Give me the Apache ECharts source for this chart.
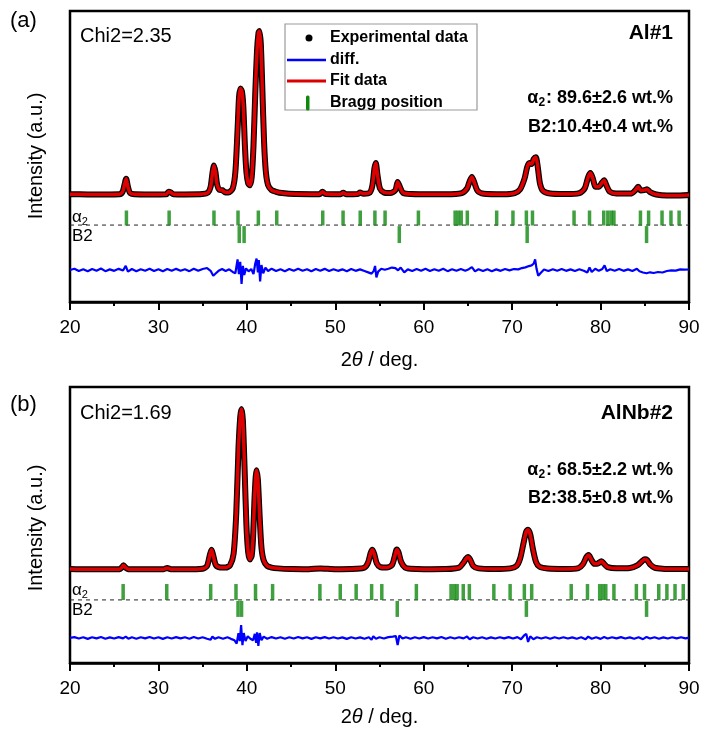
<!DOCTYPE html>
<html><head><meta charset="utf-8">
<script src="https://cdn.jsdelivr.net/npm/echarts@6/dist/echarts.min.js"></script>
<style>html,body{margin:0;padding:0;background:#fff}#c{width:704px;height:735px}</style>
</head><body><div id="c"></div>
<script>
// ---------- DATA (2θ in degrees, intensity in a.u., baseline ≈ 0, strongest peak = 100) ----------
const patternA = [[20,0.5],[22,0.4],[24,0.4],[25.6,0.5],[25.95,2],[26.15,6],[26.35,10],[26.55,5],[26.8,1.2],[27.3,0.5],[29,0.4],[30.9,0.5],[31.15,2],[31.4,1.6],[31.7,0.5],[33,0.4],[35,0.6],[35.6,1.5],[35.9,5],[36.1,13],[36.28,18],[36.45,14],[36.65,6],[36.9,3.2],[37.2,3],[37.5,1.8],[37.9,1.6],[38.4,4],[38.7,14],[38.95,40],[39.12,60],[39.28,65],[39.45,63],[39.6,54],[39.78,30],[39.95,14],[40.15,7],[40.35,6],[40.55,11],[40.75,30],[40.95,62],[41.15,88],[41.32,99],[41.43,100],[41.58,92],[41.75,65],[41.95,32],[42.15,14],[42.4,6],[42.8,3],[43.3,2],[44,1.2],[45.5,0.6],[48.2,0.5],[48.55,2],[48.9,0.6],[50.6,0.5],[50.9,1.4],[51.2,0.5],[52.5,0.6],[52.8,1.5],[53.2,0.8],[53.9,1.5],[54.2,6],[54.42,16],[54.58,19.5],[54.78,12],[55.05,4],[55.5,1.6],[56.2,1.2],[56.8,3],[57.05,8],[57.3,5],[57.65,1.4],[58.5,0.6],[60,0.5],[62.5,0.5],[64.3,1.2],[64.9,4],[65.2,8.5],[65.45,11],[65.7,8],[66.1,2.5],[66.8,0.8],[69,0.5],[70.3,1.2],[70.9,3.5],[71.4,10],[71.7,17],[71.95,19.5],[72.2,19],[72.45,22],[72.68,23],[72.9,17],[73.15,7],[73.5,2.5],[74.3,0.9],[76,0.6],[77.6,1.2],[78.2,4],[78.6,11],[78.85,13.4],[79.1,10.5],[79.45,5],[79.8,5],[80.15,7.5],[80.4,9],[80.65,6],[81.05,2],[81.8,0.9],[83.5,1],[83.95,3],[84.25,5],[84.55,2.8],[84.95,3],[85.25,3.5],[85.6,1.8],[86.3,0.3],[87.5,-0.3],[89,-0.2],[90,0]];
const diffA = [[20,0],[20.5,0.8],[21,-0.6],[21.5,0.5],[22,-0.8],[22.5,0.6],[23,-0.4],[23.5,0.9],[24,-0.7],[24.5,0.4],[25,-0.5],[25.5,0.7],[26,-0.3],[26.3,2.5],[26.55,-1],[27,0.6],[27.5,-0.7],[28,0.5],[28.5,-0.4],[29,0.8],[29.5,-0.6],[30,0.5],[30.5,-0.8],[31,0.6],[31.5,-0.5],[32,0.7],[32.5,-0.4],[33,0.5],[33.5,-0.7],[34,0.8],[34.5,-0.5],[35,0.6],[35.5,1.2],[35.9,-0.5],[36.2,-3.5],[36.5,-2],[36.8,-0.5],[37.2,0.6],[37.6,-0.6],[38.0,0.4],[38.4,-1.2],[38.7,-2],[38.95,6.5],[39.1,-2.5],[39.25,5],[39.4,-8.5],[39.55,2.5],[39.7,-3],[39.9,1],[40.2,-0.8],[40.5,0.6],[40.75,-2.5],[40.95,4],[41.1,7],[41.25,-1.5],[41.35,6],[41.5,-7],[41.65,3],[41.85,-2],[42.1,1.5],[42.4,-0.6],[42.8,0.8],[43.3,-0.6],[43.8,0.5],[44.3,-0.7],[44.8,0.6],[45.3,-0.5],[45.8,0.8],[46.3,-0.4],[46.8,0.5],[47.3,-0.8],[47.8,0.6],[48.3,-0.4],[48.8,0.7],[49.3,-0.6],[49.8,0.5],[50.3,-0.5],[50.8,0.4],[51.3,-0.8],[51.8,0.6],[52.3,-0.5],[52.8,0.4],[53.3,-0.6],[53.8,-1.6],[54.1,-2.2],[54.35,-0.5],[54.5,2.5],[54.65,-4.5],[54.85,-1],[55.2,0.8],[55.6,0.2],[56.0,0.8],[56.4,1.5],[56.8,1.2],[57.1,-0.2],[57.4,1.5],[57.8,-1.4],[58.2,0.4],[58.7,-0.6],[59.2,0.6],[59.7,-0.5],[60.2,0.7],[60.7,-0.6],[61.2,0.5],[61.7,-0.4],[62.2,0.8],[62.7,-0.7],[63.2,0.5],[63.7,-0.5],[64.2,0.6],[64.7,-0.4],[65.1,0.5],[65.45,1.8],[65.8,-0.8],[66.2,0.5],[66.7,-0.6],[67.2,0.5],[67.7,-0.7],[68.2,0.4],[68.7,-0.5],[69.2,0.6],[69.7,-0.2],[70.2,0.6],[70.7,0.4],[71.1,1.2],[71.5,1.6],[71.9,2.4],[72.2,2.8],[72.45,4],[72.6,6.5],[72.75,1],[72.95,-3.5],[73.2,-2],[73.6,0.3],[74.1,-0.6],[74.6,0.5],[75.1,-0.5],[75.6,0.6],[76.1,-0.5],[76.6,0.4],[77.1,-0.6],[77.6,0.5],[78.1,-0.4],[78.5,-1.5],[78.75,1.5],[79.0,-1.2],[79.4,0.8],[79.8,-0.5],[80.2,0.6],[80.45,2.8],[80.7,-0.6],[81.1,0.5],[81.6,-0.4],[82.1,0.6],[82.6,-0.5],[83.1,0.4],[83.6,-0.6],[84.1,0.8],[84.4,-0.8],[84.8,-1.5],[85.2,-2],[85.6,-1.4],[86.0,-1.8],[86.5,-1.2],[87.0,-1.5],[87.5,-0.6],[88.0,-0.2],[88.5,-0.4],[89.0,0.4],[89.5,0.2],[90,0.3]];
const alphaA = [26.38,31.21,36.28,39.0,41.30,43.38,48.58,50.88,52.82,54.48,55.63,59.40,63.55,63.9,64.24,64.93,68.25,70.09,71.61,72.30,77.00,78.75,80.36,80.82,81.2,81.51,84.51,85.43,86.95,87.96,88.88];
const b2A = [39.14,39.69,57.24,71.70,85.20];

const patternB = [[20,0.6],[22,0.4],[24,0.4],[25.6,0.5],[25.9,1.8],[26.05,3],[26.25,1.6],[26.6,0.5],[28,0.4],[30.6,0.5],[31.0,1.2],[31.4,0.5],[33,0.4],[35.0,0.8],[35.5,2.5],[35.8,9],[36.0,12.5],[36.2,9],[36.5,3],[37.0,1.6],[37.6,1.5],[38.1,3],[38.5,10],[38.8,35],[39.05,75],[39.25,95],[39.4,100],[39.55,93],[39.75,62],[39.95,28],[40.15,11],[40.35,6.5],[40.55,9],[40.7,20],[40.85,42],[41.0,58],[41.1,62],[41.25,56],[41.45,33],[41.65,14],[41.9,6],[42.3,2.5],[42.8,1.5],[43.5,1],[45,0.6],[47,0.5],[48.3,0.9],[50,0.5],[52.4,0.8],[53.3,1.5],[53.7,4.5],[54.0,10.5],[54.2,12.5],[54.4,10],[54.7,4],[55.1,1.8],[55.8,1.5],[56.4,3],[56.7,8],[56.95,12.8],[57.15,11],[57.45,5],[57.9,1.5],[58.5,0.8],[60,0.5],[62.5,0.6],[64.0,1.5],[64.5,4.5],[64.8,7],[65.0,8],[65.25,6.5],[65.6,2.5],[66.2,1],[68,0.6],[69.8,1],[70.5,2.5],[70.9,7],[71.3,17],[71.6,24],[71.8,25],[72.05,22],[72.35,13],[72.7,5],[73.1,2],[74,0.9],[76,0.6],[77.5,1.2],[78.0,3.5],[78.4,8],[78.65,9.3],[78.95,6.5],[79.3,3.8],[79.7,4],[80.1,5.5],[80.4,3.8],[80.8,1.8],[81.8,1],[83.3,1.2],[84.2,3],[84.7,5.5],[85.0,6.6],[85.25,6.2],[85.6,3.5],[86.1,1.5],[87,0.8],[88.5,0.6],[90,0.6]];
const diffB = [[20,0],[20.5,0.5],[21,-0.4],[21.5,0.4],[22,-0.6],[22.5,0.4],[23,-0.3],[23.5,0.6],[24,-0.5],[24.5,0.3],[25,-0.4],[25.5,0.5],[26,-0.3],[26.3,0.8],[26.6,-0.5],[27,0.4],[27.5,-0.5],[28,0.4],[28.5,-0.3],[29,0.6],[29.5,-0.4],[30,0.4],[30.5,-0.6],[31,0.4],[31.5,-0.4],[32,0.5],[32.5,-0.3],[33,0.4],[33.5,-0.5],[34,0.6],[34.5,-0.4],[35,0.4],[35.5,-0.5],[35.9,-1.2],[36.1,0.8],[36.4,-0.6],[36.8,0.4],[37.3,-0.5],[37.8,0.4],[38.2,-0.6],[38.6,-1.5],[38.85,-3.5],[39.05,3],[39.2,-2],[39.35,8],[39.5,-4.5],[39.65,3],[39.85,-2],[40.1,1],[40.4,-0.5],[40.7,-1.5],[40.9,2.5],[41.05,-3],[41.15,3.5],[41.3,-5],[41.45,3],[41.65,-1.5],[41.9,0.8],[42.3,-0.5],[42.8,0.5],[43.3,-0.4],[43.8,0.4],[44.3,-0.5],[44.8,0.4],[45.3,-0.4],[45.8,0.6],[46.3,-0.3],[46.8,0.4],[47.3,-0.6],[47.8,0.4],[48.3,-0.3],[48.8,0.5],[49.3,-0.4],[49.8,0.4],[50.3,-0.4],[50.8,0.3],[51.3,-0.6],[51.8,0.4],[52.3,-0.4],[52.8,0.3],[53.3,-0.5],[53.8,0.4],[54.1,-1.2],[54.3,1],[54.6,-0.5],[55.0,0.4],[55.5,-0.4],[56.0,0.5],[56.5,0.8],[56.85,1.2],[57.05,-4.5],[57.25,1.5],[57.6,-0.4],[58.0,0.4],[58.5,-0.5],[59,0.4],[59.5,-0.4],[60,0.5],[60.5,-0.4],[61,0.4],[61.5,-0.3],[62,0.6],[62.5,-0.5],[63,0.4],[63.5,-0.4],[64,0.4],[64.5,-0.3],[64.9,0.8],[65.2,-0.8],[65.6,0.4],[66.1,-0.4],[66.6,0.4],[67.1,-0.5],[67.6,0.3],[68.1,-0.4],[68.6,0.4],[69.1,-0.3],[69.6,0.5],[70.1,-0.4],[70.6,0.5],[71.0,-0.8],[71.35,1.5],[71.6,2.5],[71.8,-2.5],[72.05,1],[72.4,-0.8],[72.8,0.4],[73.3,-0.4],[73.8,0.4],[74.3,-0.5],[74.8,0.4],[75.3,-0.4],[75.8,0.4],[76.3,-0.4],[76.8,0.3],[77.3,-0.5],[77.8,0.4],[78.3,-0.8],[78.6,0.8],[79.0,-0.5],[79.5,0.4],[80.0,-0.6],[80.4,0.5],[80.8,-0.4],[81.3,0.4],[81.8,-0.3],[82.3,0.5],[82.8,-0.4],[83.3,0.3],[83.8,-0.5],[84.3,0.4],[84.8,-0.8],[85.2,0.6],[85.6,-0.4],[86.1,0.4],[86.6,-0.5],[87.1,0.3],[87.6,-0.4],[88.1,0.4],[88.6,-0.3],[89.1,0.4],[89.6,-0.3],[90,0.2]];
const alphaB = [26.01,30.94,35.91,38.77,40.98,42.91,48.26,50.56,52.36,54.11,55.26,59.17,63.09,63.45,63.78,64.47,65.16,67.93,69.77,71.38,72.21,76.68,78.52,79.90,80.25,80.59,81.51,84.05,84.97,86.58,87.50,88.42,89.35];
const b2B = [39.0,39.4,57.01,71.61,85.20];

const xTicks = {min: 20, max: 90, interval: 10};
const panelLabels = ['(a)', '(b)'];
const chiTexts = ['Chi2=2.35', 'Chi2=1.69'];
const sampleNames = ['Al#1', 'AlNb#2'];
const alphaFractions = [': 89.6±2.6 wt.%', ': 68.5±2.2 wt.%'];
const b2Fractions = ['B2:10.4±0.4 wt.%', 'B2:38.5±0.8 wt.%'];
const legendNames = ['Experimental data', 'diff.', 'Fit data', 'Bragg position'];

// ---------- LAYOUT ----------
const FONT = '"Liberation Sans", Arial, sans-serif';
const GREEN = '#10880f';
const panels = [
  {top: 11, height: 291, ymin: -65.2, ymax: 112.2, alphaRow: -14.0, b2Row: -24.1, dash: -18.3, diffOff: -45.7,
   pattern: patternA, diff: diffA, alpha: alphaA, b2: b2A, alphaH: 15, b2H: 17},
  {top: 387, height: 276, ymin: -57.8, ymax: 113.7, alphaRow: -13.7, b2Row: -24.2, dash: -18.6, diffOff: -42.2,
   pattern: patternB, diff: diffB, alpha: alphaB, b2: b2B, alphaH: 16, b2H: 16}
];
const LEFT = 70, WIDTH = 619;

const grids = [], xAxes = [], yAxes = [], series = [], graphic = [];
panels.forEach((p, i) => {
  grids.push({left: LEFT, top: p.top, width: WIDTH, height: p.height, show: true,
    borderColor: '#000', borderWidth: 2.5, backgroundColor: 'transparent'});
  xAxes.push({gridIndex: i, type: 'value', min: xTicks.min, max: xTicks.max, interval: xTicks.interval,
    axisLine: {show: true, onZero: false, lineStyle: {color: '#000', width: 2.5}},
    axisTick: {show: true, inside: false, length: 8, lineStyle: {color: '#000', width: 2}},
    minorTick: {show: true, splitNumber: 2, length: 4, lineStyle: {color: '#000', width: 2}},
    axisLabel: {fontSize: 19, color: '#000', margin: 16, fontFamily: FONT},
    splitLine: {show: false}});
  yAxes.push({gridIndex: i, type: 'value', min: p.ymin, max: p.ymax, show: false});
  const common = {xAxisIndex: i, yAxisIndex: i, silent: true, animation: false};
  series.push(Object.assign({type: 'line', data: p.pattern, symbol: 'none', smooth: 0.25,
    lineStyle: {color: '#000', width: 6}, z: 3}, common));
  series.push(Object.assign({type: 'line', data: p.pattern, symbol: 'none', smooth: 0.25,
    lineStyle: {color: '#dd0000', width: 3.5}, z: 4}, common));
  series.push(Object.assign({type: 'line', data: p.diff.map(d => [d[0], d[1] + p.diffOff]), symbol: 'none',
    lineStyle: {color: '#0000ff', width: 2.2}, z: 3}, common));
  series.push(Object.assign({type: 'line', data: [[xTicks.min, p.dash], [xTicks.max, p.dash]], symbol: 'none',
    lineStyle: {color: '#222', width: 1, type: [4, 4]}, z: 2}, common));
  series.push(Object.assign({type: 'scatter', data: p.alpha.map(x => [x, p.alphaRow]), symbol: 'rect',
    symbolSize: [3.5, p.alphaH], itemStyle: {color: GREEN}, z: 3}, common));
  series.push(Object.assign({type: 'scatter', data: p.b2.map(x => [x, p.b2Row]), symbol: 'rect',
    symbolSize: [3.5, p.b2H], itemStyle: {color: GREEN}, z: 3}, common));
});

const txt = (x, y, text, size, opts) => Object.assign({type: 'text', x, y, z: 50, silent: true,
  style: Object.assign({text, fontSize: size, fontFamily: FONT, fill: '#000', align: 'left', verticalAlign: 'middle'}, opts || {})});
const richSub = (size, weight) => ({
  a: {fontSize: size, fontFamily: FONT, fontWeight: weight, fill: '#000', lineHeight: size + 4},
  s: {fontSize: Math.round(size * 0.65), fontFamily: FONT, fontWeight: weight, fill: '#000', verticalAlign: 'bottom', lineHeight: 6, padding: [0, 1, 0, 0]}
});

const rowY = [[21, 36, 33, 98, 127, 217, 236, 156, 360], [405, 413, 413, 470, 498, 590, 610, 528, 717]];
panels.forEach((p, i) => {
  const r = rowY[i];
  graphic.push(txt(10, r[0], panelLabels[i], 22));
  graphic.push(txt(80, r[1], chiTexts[i], 20));
  graphic.push(txt(673, r[2], sampleNames[i], 21, {align: 'right', fontWeight: 'bold'}));
  graphic.push(txt(673, r[3], '{a|α}{s|2}{a|' + alphaFractions[i] + '}', 18, {align: 'right', rich: richSub(18, 'bold')}));
  graphic.push(txt(673, r[4], b2Fractions[i], 18, {align: 'right', fontWeight: 'bold'}));
  graphic.push(txt(72, r[5], '{a|α}{s|2}', 17, {rich: richSub(17, 'normal')}));
  graphic.push(txt(72, r[6], 'B2', 17));
  graphic.push(Object.assign(txt(36, r[7], 'Intensity (a.u.)', 20, {align: 'center'}), {rotation: Math.PI / 2}));
  graphic.push(txt(LEFT + WIDTH / 2, r[8], '{a|2}{i|θ}{a| / deg.}', 20, {align: 'center',
    rich: {a: {fontSize: 20, fontFamily: FONT, fill: '#000'}, i: {fontSize: 20, fontFamily: FONT, fontStyle: 'italic', fill: '#000'}}}));
});

// legend box (panel a)
const LG = {x: 285, y: 24, w: 192, h: 86, rows: [38, 60, 81, 103]};
graphic.push({type: 'rect', z: 40, silent: true, shape: {x: LG.x, y: LG.y, width: LG.w, height: LG.h},
  style: {fill: '#fff', stroke: '#9a9a9a', lineWidth: 1.2}});
graphic.push({type: 'circle', z: 45, silent: true, shape: {cx: 309, cy: LG.rows[0], r: 3.5}, style: {fill: '#000'}});
graphic.push({type: 'line', z: 45, silent: true, shape: {x1: 287, y1: LG.rows[1], x2: 326, y2: LG.rows[1]}, style: {stroke: '#0000ff', lineWidth: 2.5}});
graphic.push({type: 'line', z: 45, silent: true, shape: {x1: 287, y1: LG.rows[2], x2: 326, y2: LG.rows[2]}, style: {stroke: '#dd0000', lineWidth: 3}});
graphic.push({type: 'rect', z: 45, silent: true, shape: {x: 306, y: LG.rows[3] - 7.5, width: 3.5, height: 15, r: 1.5}, style: {fill: GREEN}});
legendNames.forEach((n, k) => graphic.push(txt(330, LG.rows[k], n, 16, {fontWeight: 'bold'})));

const chart = echarts.init(document.getElementById('c'), null, {renderer: 'canvas'});
chart.setOption({animation: false, backgroundColor: '#fff', grid: grids, xAxis: xAxes, yAxis: yAxes, series, graphic});
</script></body></html>
